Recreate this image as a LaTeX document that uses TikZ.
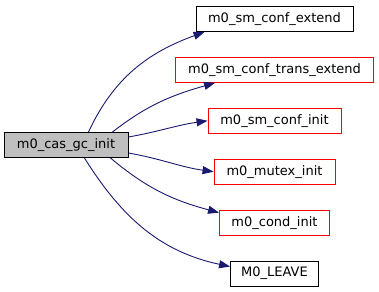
\documentclass[tikz,border=0pt]{standalone}
\usepackage{fontspec}
\setmainfont{DejaVu Sans}
\usetikzlibrary{positioning,arrows.meta}
\definecolor{edgeblue}{HTML}{191970}
\definecolor{docred}{HTML}{FF0000}
\tikzset{
        func/.style={draw, rectangle, line width=0.9pt, minimum height=25pt, inner sep=0pt, align=center, font=\fontsize{13}{15}\selectfont},
        rootfunc/.style={func, fill=black!25},
        undoc/.style={func, draw=docred},
        call/.style={draw=edgeblue, line width=0.9pt, -{Triangle[length=11pt,width=8pt]}},
    }

\begin{document}
\begin{tikzpicture}[x=1pt, y=1pt, node distance=25pt]
        \useasboundingbox (0,0) rectangle (379,-291);

        % Caller
        \node[rootfunc, minimum width=124pt] (caselect) at (66,-145) {m0\_cas\_gc\_init};

        % Callees
        \node[func, minimum width=157pt] (smext) at (274.5,-19) {m0\_sm\_conf\_extend};
        \node[undoc, minimum width=198pt, below=of smext] (smtrans) {m0\_sm\_conf\_trans\_extend};
        \node[undoc, minimum width=133pt, below=of smtrans] (sminit) {m0\_sm\_conf\_init};
        \node[undoc, minimum width=121pt, below=of sminit] (mutexinit) {m0\_mutex\_init};
        \node[undoc, minimum width=110pt, below=of mutexinit] (condinit) {m0\_cond\_init};
        \node[func, minimum width=88pt, below=of condinit] (leave) {M0\_LEAVE};

        % Calls
        \draw[call] ([xshift=-40pt]caselect.north east) to[out=65, in=200] ([xshift=9pt]smext.south west);
        \draw[call] ([xshift=-16pt]caselect.north east) to[out=38, in=196] ([xshift=40pt]smtrans.south west);
        \draw[call] ([yshift=8pt]caselect.east) to[out=10, in=188] (sminit.west);
        \draw[call] ([yshift=-8pt]caselect.east) to[out=-10, in=172] (mutexinit.west);
        \draw[call] ([xshift=-18pt]caselect.south east) to[out=-40, in=165] ([yshift=-3pt]condinit.north west);
        \draw[call] ([xshift=-44pt]caselect.south east) to[out=-58, in=168] ([yshift=-6pt]leave.north west);
    \end{tikzpicture}
\end{document}
